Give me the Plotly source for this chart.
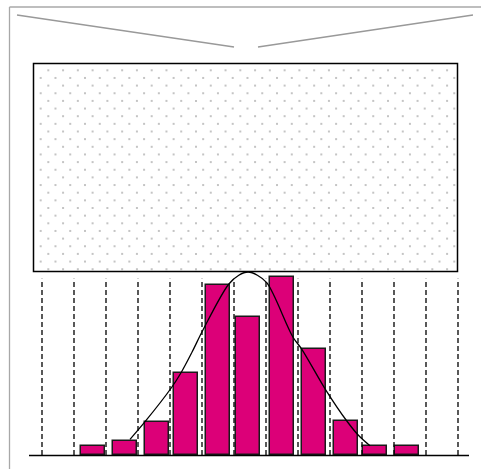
import numpy as np
import plotly.graph_objects as go

# ---- data ----
bin_edges = list(range(14))                      # dashed bin boundaries
bar_x = [1.6, 2.6, 3.6, 4.5, 5.5, 6.45, 7.5, 8.5, 9.5, 10.4, 11.4]
bar_counts = [1.0, 1.6, 3.7, 9.2, 19.1, 15.5, 20.0, 11.9, 3.8, 1.0, 1.0]
curve_x = [2.75, 3.22, 4.06, 4.34, 4.69, 5.03, 5.84, 6.15, 6.44, 6.73, 7.03,
           7.84, 8.12, 8.87, 9.52, 9.88, 10.25]
curve_y = [1.76, 3.74, 7.64, 9.21, 11.57, 14.04, 19.21, 20.2, 20.56, 20.2, 19.33,
           13.26, 11.88, 7.30, 3.85, 2.25, 1.04]
grid_top = 19.8

# ---- page geometry ----
W, H = 481, 469
X0PX, XSTEP = 42.0, 32.0
Y0PX, YSTEP = 455.0, 8.9

def dx(px):
    return (px - X0PX) / XSTEP

def dy(py):
    return (Y0PX - py) / YSTEP

def ppx(px):
    return px / W

def ppy(py):
    return 1 - py / H

fig = go.Figure()

# dotted texture inside the top box
dots_x, dots_y = [], []
for i in range(27):
    py = 70.3 + 7.65 * i
    px = 48.3 if i % 2 == 0 else 40.7
    while px <= 456:
        dots_x.append(dx(px))
        dots_y.append(dy(py))
        px += 14.77
fig.add_trace(go.Scatter(x=dots_x, y=dots_y, mode="markers",
                         marker=dict(symbol="square", size=2, color="#c4c4c4"),
                         hoverinfo="skip"))

# dashed bin boundaries
gx, gy = [], []
for e in bin_edges:
    gx += [e, e, None]
    gy += [0, grid_top, None]
fig.add_trace(go.Scatter(x=gx, y=gy, mode="lines",
                         line=dict(color="black", width=1.3, dash="5px,3px"),
                         hoverinfo="skip"))

# density curve
fig.add_trace(go.Scatter(x=curve_x, y=curve_y, mode="lines",
                         line=dict(color="black", width=1.3, shape="spline"),
                         hoverinfo="skip"))

# histogram bars
fig.add_trace(go.Bar(x=bar_x, y=bar_counts, width=0.75,
                     marker=dict(color="#dc0078",
                                 line=dict(color="#1a1a1a", width=1.5))))

shapes = [
    # outer frame (left and top edges)
    dict(type="line", xref="paper", yref="paper", x0=ppx(9.5), x1=ppx(9.5),
         y0=ppy(7), y1=ppy(469), line=dict(color="#a8a8a8", width=1.3)),
    dict(type="line", xref="paper", yref="paper", x0=ppx(9.5), x1=ppx(481),
         y0=ppy(7), y1=ppy(7), line=dict(color="#a8a8a8", width=1.3)),
    # funnel lines
    dict(type="line", xref="paper", yref="paper", x0=ppx(17), x1=ppx(234),
         y0=ppy(15), y1=ppy(47), line=dict(color="#999999", width=1.3)),
    dict(type="line", xref="paper", yref="paper", x0=ppx(258), x1=ppx(473),
         y0=ppy(47), y1=ppy(15), line=dict(color="#999999", width=1.3)),
    # top box
    dict(type="rect", xref="paper", yref="paper", x0=ppx(33.5), x1=ppx(457.5),
         y0=ppy(271.5), y1=ppy(63.5), line=dict(color="black", width=1.5)),
    # baseline
    dict(type="line", xref="paper", yref="paper", x0=ppx(29), x1=ppx(469),
         y0=ppy(455.5), y1=ppy(455.5), line=dict(color="black", width=1.5)),
]

fig.update_layout(
    width=W, height=H,
    margin=dict(l=0, r=0, t=0, b=0),
    paper_bgcolor="white", plot_bgcolor="white",
    showlegend=False,
    xaxis=dict(visible=False, range=[dx(0), dx(W)], fixedrange=True),
    yaxis=dict(visible=False, range=[dy(H), dy(0)], fixedrange=True),
    shapes=shapes,
    bargap=0,
)

fig.write_html("out.html", config={"displayModeBar": False},
               post_script="document.body.style.margin='0px';"
                           "document.body.style.overflow='hidden';")
